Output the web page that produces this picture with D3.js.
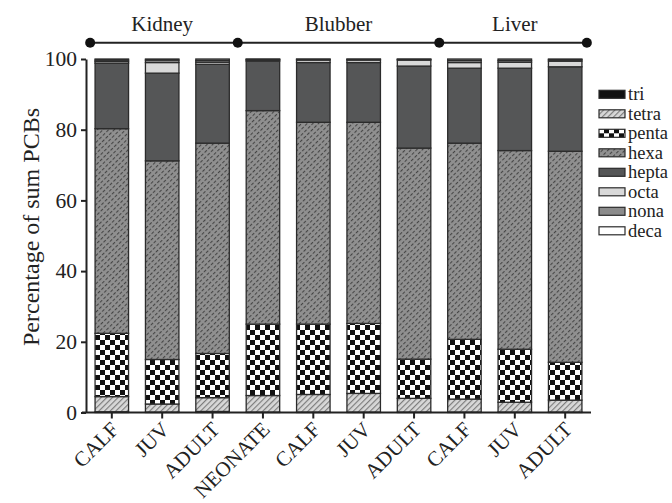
<!DOCTYPE html>
<html>
<head>
<meta charset="utf-8">
<script src="https://cdn.jsdelivr.net/npm/d3@7"></script>
<style>
  body { margin: 0; background: #fff; }
  text { font-family: "Liberation Serif", "Times New Roman", serif; fill: #222; }
</style>
</head>
<body>
<div id="chart"></div>
<script>
// chart data
var categories = ["CALF", "JUV", "ADULT", "NEONATE", "CALF", "JUV", "ADULT", "CALF", "JUV", "ADULT"];
var tissues = ["Kidney", "Blubber", "Liver"];
var tissueBars = [[0, 2], [3, 6], [7, 9]];
var seriesNames = ["tri", "tetra", "penta", "hexa", "hepta", "octa", "nona", "deca"];

// percent of sum PCBs, one value per bar
var tri   = [0.2, 0.1, 0.3, 0.1, 0.1, 0.1, 0.1, 0.1, 0.1, 0.1];
var tetra = [4.3, 2.3, 3.9, 4.7, 5.0, 5.3, 3.9, 3.7, 2.8, 3.4];
var penta = [17.9, 12.6, 12.5, 20.2, 19.9, 19.8, 11.1, 16.9, 15.0, 10.7];
var hexa  = [57.9, 56.2, 59.5, 60.4, 57.1, 56.9, 59.7, 55.5, 56.2, 59.7];
var hepta = [18.5, 24.8, 22.3, 14.0, 16.9, 16.9, 23.2, 21.2, 23.3, 23.9];
var octa  = [0.5, 3.0, 0.6, 0.3, 0.7, 0.7, 1.7, 1.6, 1.7, 1.6];
var nona  = [0.4, 0.7, 0.5, 0.2, 0.2, 0.2, 0.2, 0.6, 0.5, 0.4];
var deca  = [0.3, 0.3, 0.4, 0.1, 0.1, 0.1, 0.1, 0.4, 0.4, 0.2];

var yTicks = [0, 20, 40, 60, 80, 100];

var svgWidth = 672, svgHeight = 503;

var svg = d3.select("#chart").append("svg")
  .attr("width", svgWidth)
  .attr("height", svgHeight);

// fills
var defs = svg.append("defs");

var pTetra = defs.append("pattern").attr("id", "p-tetra")
  .attr("patternUnits", "userSpaceOnUse").attr("width", 4).attr("height", 4)
  .attr("patternTransform", "rotate(45)");
pTetra.append("rect").attr("width", 4).attr("height", 4).attr("fill", "#d8d8d8");
pTetra.append("line").attr("x1", 0.6).attr("x2", 0.6).attr("y1", 0).attr("y2", 4)
  .attr("stroke", "#777").attr("stroke-width", 1.1);

var pHexa = defs.append("pattern").attr("id", "p-hexa")
  .attr("patternUnits", "userSpaceOnUse").attr("width", 4).attr("height", 5)
  .attr("patternTransform", "rotate(45)");
pHexa.append("rect").attr("width", 4).attr("height", 5).attr("fill", "#909090");
pHexa.append("line").attr("x1", 0.6).attr("x2", 0.6).attr("y1", 0).attr("y2", 3.2)
  .attr("stroke", "#333").attr("stroke-width", 0.9);

var pPenta = defs.append("pattern").attr("id", "p-penta")
  .attr("patternUnits", "userSpaceOnUse").attr("width", 10).attr("height", 10);
pPenta.append("rect").attr("width", 10).attr("height", 10).attr("fill", "#fff");
pPenta.append("rect").attr("width", 5).attr("height", 5).attr("fill", "#111");
pPenta.append("rect").attr("x", 5).attr("y", 5).attr("width", 5).attr("height", 5).attr("fill", "#111");

var fills = {
  tri: "#111",
  tetra: "url(#p-tetra)",
  penta: "url(#p-penta)",
  hexa: "url(#p-hexa)",
  hepta: "#555657",
  octa: "#d9d9d9",
  nona: "#8c8c8c",
  deca: "#ffffff"
};

// table for the stack
var table = categories.map(function(c, i) {
  return {
    idx: i, tri: tri[i], tetra: tetra[i], penta: penta[i], hexa: hexa[i],
    hepta: hepta[i], octa: octa[i], nona: nona[i], deca: deca[i]
  };
});
var stacked = d3.stack().keys(seriesNames)(table);

// scales
var xScale = d3.scaleBand()
  .domain(d3.range(categories.length))
  .range([86, 591])
  .paddingInner(0.335)
  .paddingOuter(0.18);

var yScale = d3.scaleLinear()
  .domain([0, 100])
  .range([412.5, 59]);

// bars
svg.append("g").selectAll("g")
  .data(stacked)
  .enter()
  .append("g")
  .attr("fill", function(s) { return fills[s.key]; })
  .selectAll("rect")
  .data(function(s) { return s; })
  .enter()
  .append("rect")
  .attr("x", function(d) { return xScale(d.data.idx); })
  .attr("width", xScale.bandwidth())
  .attr("y", function(d) { return yScale(d[1]); })
  .attr("height", function(d) { return yScale(d[0]) - yScale(d[1]); })
  .attr("stroke", "#2b2b2b")
  .attr("stroke-width", 1.3);

// y axis
var yAxis = svg.append("g")
  .attr("transform", "translate(86,0)")
  .call(d3.axisLeft(yScale).tickValues(yTicks).tickSize(5).tickSizeOuter(0));
yAxis.selectAll("text").attr("font-size", 21.5).attr("x", -9)
  .style("font-family", "'Liberation Serif', serif").attr("fill", "#222");

// x axis
var xAxis = svg.append("g")
  .attr("transform", "translate(0,412.5)")
  .call(d3.axisBottom(xScale).tickSize(6).tickSizeOuter(0).tickFormat(function(i) { return categories[i]; }));
xAxis.select(".domain").attr("d", "M82,0H591");
xAxis.selectAll("text")
  .attr("font-size", 21)
  .style("font-family", "'Liberation Serif', serif")
  .attr("fill", "#222")
  .attr("text-anchor", "end")
  .attr("x", 0).attr("y", 0).attr("dy", "0.35em")
  .attr("transform", "translate(3,13) rotate(-45)");

svg.selectAll(".domain, .tick line").attr("stroke", "#222").attr("stroke-width", 2);

// y label
svg.append("text")
  .attr("transform", "translate(39,227) rotate(-90)")
  .attr("text-anchor", "middle")
  .attr("font-size", 24)
  .text("Percentage of sum PCBs");

// tissue brackets
var step = xScale.step();
var centers = categories.map(function(c, i) { return xScale(i) + xScale.bandwidth() / 2; });
var dots = [centers[0] - 0.43 * step];
tissueBars.forEach(function(r) { dots.push(centers[r[1]] + (r[1] < categories.length - 1 ? step / 2 : 0.43 * step)); });
var bracketY = 42.7;

svg.append("line")
  .attr("x1", dots[0]).attr("x2", dots[dots.length - 1])
  .attr("y1", bracketY).attr("y2", bracketY)
  .attr("stroke", "#222").attr("stroke-width", 2);
svg.append("g").selectAll("circle")
  .data(dots)
  .enter()
  .append("circle")
  .attr("cx", function(d) { return d; })
  .attr("cy", bracketY)
  .attr("r", 5)
  .attr("fill", "#111");
svg.append("g").selectAll("text")
  .data(tissues)
  .enter()
  .append("text")
  .attr("x", function(t, i) { return (centers[tissueBars[i][0]] + centers[tissueBars[i][1]]) / 2; })
  .attr("y", 31)
  .attr("text-anchor", "middle")
  .attr("font-size", 21)
  .text(function(t) { return t; });

// legend
var legend = svg.append("g").selectAll("g")
  .data(seriesNames)
  .enter()
  .append("g")
  .attr("transform", function(d, i) { return "translate(599," + (94.3 + i * 19.5) + ")"; });
legend.append("rect")
  .attr("x", 0).attr("y", -4).attr("width", 26).attr("height", 8)
  .attr("fill", function(d) { return fills[d]; })
  .attr("stroke", "#2b2b2b").attr("stroke-width", 1.2);
legend.append("text")
  .attr("x", 29).attr("y", 0).attr("dy", "0.33em")
  .attr("font-size", 18.5)
  .text(function(d) { return d; });
</script>
</body>
</html>
